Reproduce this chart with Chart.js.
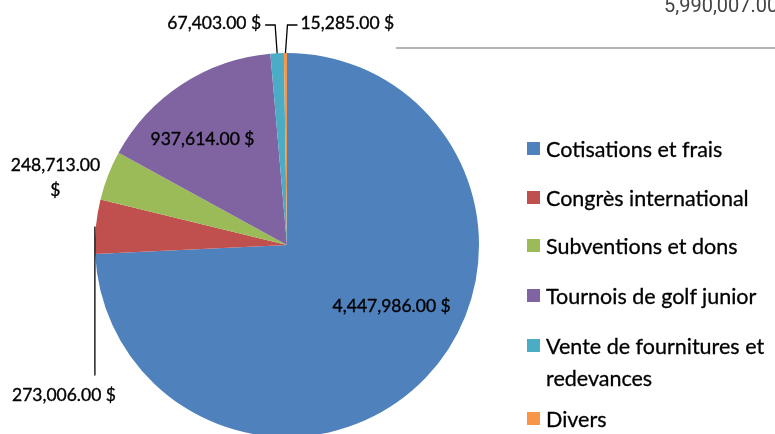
<!DOCTYPE html>
<html>
<head>
<meta charset="utf-8">
<script src="https://cdn.jsdelivr.net/npm/chart.js@4.4.1/dist/chart.umd.min.js"></script>
<style>
  html, body { margin: 0; padding: 0; background: #fff; overflow: hidden; }
  #wrap { position: relative; width: 775px; height: 440px; }
  #total { position: absolute; left: 664px; top: -5px; font: 20px/1 Roboto, sans-serif; color: #444; white-space: nowrap; }
  #rule { position: absolute; left: 396px; top: 47px; width: 379px; height: 2px; background: #b4b4b4; }
  #legend { position: absolute; left: 527px; top: 0; font-family: Lato, sans-serif; font-size: 21.5px; color: #000; -webkit-text-stroke: 0.3px #000; }
  .item { position: absolute; left: 0; white-space: nowrap; line-height: 32px; }
  .item i { position: absolute; left: 0; top: 0; width: 13px; height: 13px; }
  .item span { position: absolute; left: 19px; top: -9px; }
</style>
</head>
<body>
<div id="wrap">
  <canvas id="miPie" width="775" height="440"></canvas>
  <div id="total"></div>
  <div id="rule"></div>
  <div id="legend"></div>
</div>
<script>
// datos
const categorias = ['Cotisations et frais', 'Congrès international', 'Subventions et dons', 'Tournois de golf junior', 'Vente de fournitures et redevances', 'Divers']
const valores = [4447986, 273006, 248713, 937614, 67403, 15285]
const colores = ['#4f81bd', '#c0504d', '#9bbb59', '#8064a2', '#4bacc6', '#f79646']
const leyendaLineas = [['Cotisations et frais'], ['Congrès international'], ['Subventions et dons'], ['Tournois de golf junior'], ['Vente de fournitures et', 'redevances'], ['Divers']]

const fmt = v => v.toLocaleString('en-US', { minimumFractionDigits: 2, maximumFractionDigits: 2 })
const total = valores.reduce((a, b) => a + b, 0)

document.getElementById('total').textContent = fmt(total)

// leyenda en html
const legendTops = [142, 191, 239, 289, 339, 412]
const legend = document.getElementById('legend')
leyendaLineas.forEach((lines, i) => {
  const item = document.createElement('div')
  item.className = 'item'
  item.style.top = legendTops[i] + 'px'
  item.innerHTML = `<i style="background:${colores[i]}"></i><span>${lines.join('<br>')}</span>`
  legend.appendChild(item)
})

// etiquetas con lineas guia
const etiquetas = {
  id: 'etiquetas',
  afterDatasetsDraw(chart) {
    const ctx = chart.ctx
    const arcs = chart.getDatasetMeta(0).data
    const cx = arcs[0].x, cy = arcs[0].y, r = arcs[0].outerRadius
    const edge = i => {
      const a = (arcs[i].startAngle + arcs[i].endAngle) / 2
      return { x: cx + r * Math.cos(a), y: cy + r * Math.sin(a) }
    }
    ctx.save()
    ctx.font = '17.5px Lato'
    ctx.fillStyle = '#000'
    ctx.strokeStyle = '#000'
    ctx.textBaseline = 'middle'

    const txt = i => fmt(valores[i]) + ' $'
    const put = (s, x, y) => {
      ctx.lineWidth = 0.35
      ctx.fillText(s, x, y)
      ctx.strokeText(s, x, y)
    }

    // Cotisations
    ctx.textAlign = 'center'
    put(txt(0), cx + 0.545 * r, cy + 0.32 * r)
    // Tournois
    put(txt(3), cx - 0.44 * r, cy - 0.55 * r)
    // Subventions
    put(fmt(valores[2]), cx - 1.206 * r, cy - 0.415 * r)
    put('$', cx - 1.206 * r, cy - 0.285 * r)

    ctx.lineWidth = 1.3
    // Congres
    let p = edge(1)
    ctx.beginPath()
    ctx.moveTo(p.x - 1, p.y)
    ctx.lineTo(p.x - 1, cy + 0.68 * r)
    ctx.stroke()
    ctx.textAlign = 'left'
    put(txt(1), 12, cy + 0.785 * r)

    // Vente
    ctx.lineWidth = 1.3
    p = edge(4)
    const yTop = cy - r - 28
    ctx.beginPath()
    ctx.moveTo(p.x, p.y)
    ctx.lineTo(p.x - 2, yTop)
    ctx.lineTo(p.x - 12, yTop)
    ctx.stroke()
    ctx.textAlign = 'right'
    put(txt(4), p.x - 16, yTop - 2)

    // Divers
    ctx.lineWidth = 1.3
    p = edge(5)
    ctx.beginPath()
    ctx.moveTo(p.x, p.y)
    ctx.lineTo(p.x + 2, yTop)
    ctx.lineTo(p.x + 12, yTop)
    ctx.stroke()
    ctx.textAlign = 'left'
    put(txt(5), p.x + 15, yTop - 2)
    ctx.restore()
  }
}

new Chart(document.getElementById('miPie'), {
  type: 'pie',
  data: {
    labels: categorias,
    datasets: [{
      data: valores,
      backgroundColor: colores,
      borderWidth: 0
    }]
  },
  options: {
    responsive: false,
    animation: false,
    layout: { padding: { left: 95, right: 296, top: 53, bottom: 3 } },
    plugins: { legend: { display: false }, tooltip: { enabled: false } }
  },
  plugins: [etiquetas]
})
</script>
</body>
</html>
